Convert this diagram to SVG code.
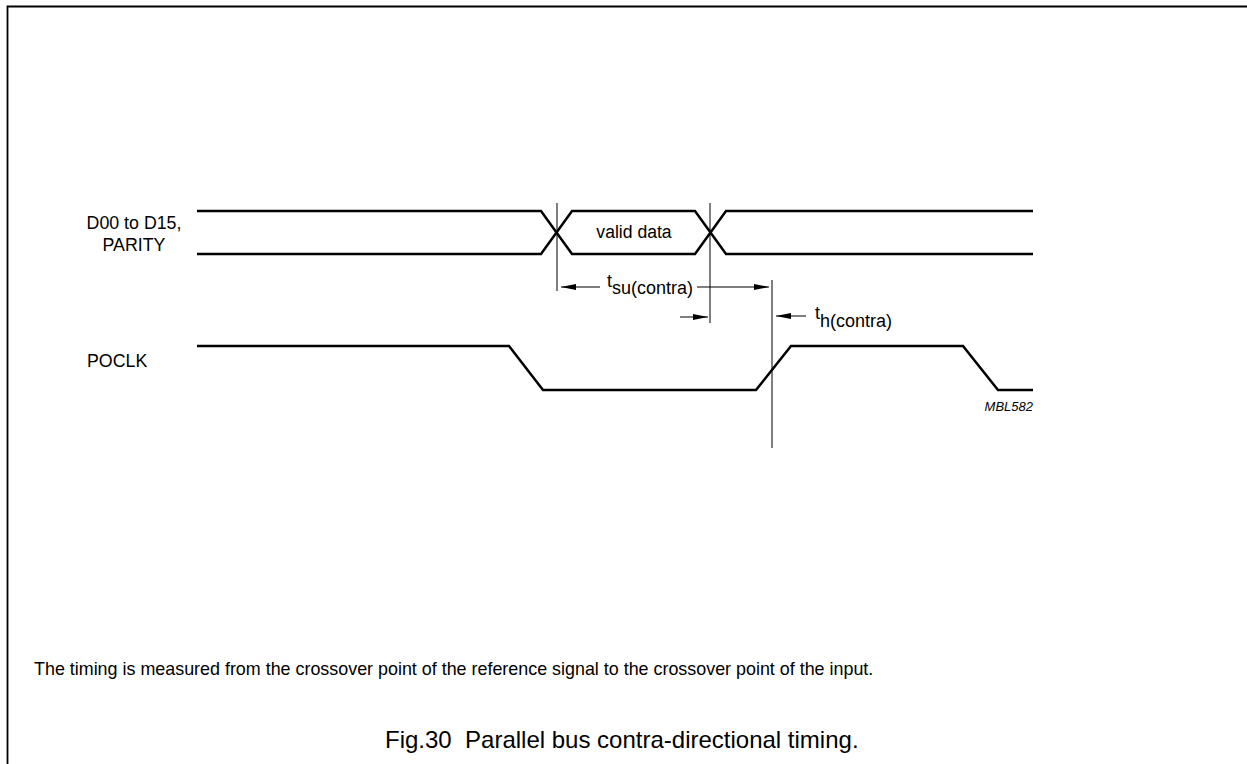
<svg xmlns="http://www.w3.org/2000/svg" width="1247" height="764" viewBox="0 0 1247 764">
  <defs>
    <style>
      text { font-family: "Liberation Sans", Arial, sans-serif; fill: #000; }
      .sig { fill: none; stroke: #000; stroke-width: 2.5; stroke-linejoin: miter; }
      .ref { fill: none; stroke: #000; stroke-width: 1; }
      .dim { fill: none; stroke: #000; stroke-width: 1; }
      .frame { fill: none; stroke: #000; stroke-width: 1.8; }
      .lbl { font-size: 17.8px; }
      .ann { font-size: 17.6px; }
      .sub { font-size: 18px; }
      .note { font-size: 17.9px; }
      .cap { font-size: 24px; }
      .id { font-size: 13px; font-style: italic; }
    </style>
    <marker id="ah" viewBox="0 0 15 6" refX="15" refY="3" markerWidth="15" markerHeight="6" markerUnits="userSpaceOnUse" orient="auto">
      <path d="M0,0 L15,3 L0,6 Z" fill="#000"/>
    </marker>
  </defs>

  <rect width="1247" height="764" fill="#fff"/>

  <!-- page frame: top and left edges -->
  <path class="frame" d="M7.5,764 V6.5 H1247"/>

  <!-- data bus signal -->
  <g id="bus">
    <text class="lbl" x="134" y="229" text-anchor="middle">D00 to D15,</text>
    <text class="lbl" x="134" y="251" text-anchor="middle">PARITY</text>
    <path class="sig" d="M197,211 H541 L572,254 H695 L726,211 H1033"/>
    <path class="sig" d="M197,254 H541 L572,211 H695 L726,254 H1033"/>
    <text class="ann" x="634" y="238" text-anchor="middle">valid data</text>
  </g>

  <!-- clock signal -->
  <g id="poclk">
    <text class="lbl" x="87" y="367">POCLK</text>
    <path class="sig" d="M197,346 H509 L543,390 H756 L791,346 H963 L998,390 H1033"/>
    <text class="id" x="1033" y="411" text-anchor="end">MBL582</text>
  </g>

  <!-- reference lines and timing dimensions -->
  <g id="connectors">
    <line class="ref" x1="557" y1="203" x2="557" y2="291"/>
    <line class="ref" x1="710" y1="203" x2="710" y2="323"/>
    <line class="ref" x1="772" y1="280" x2="772" y2="448"/>

    <line class="dim" x1="600" y1="287" x2="561" y2="287" marker-end="url(#ah)"/>
    <line class="dim" x1="697" y1="287" x2="769" y2="287" marker-end="url(#ah)"/>
    <line class="dim" x1="680" y1="317" x2="708" y2="317" marker-end="url(#ah)"/>
    <line class="dim" x1="806" y1="316" x2="776" y2="316" marker-end="url(#ah)"/>
  </g>

  <g id="tsu">
    <text class="sub" x="607" y="287">t<tspan dy="7">su(contra)</tspan></text>
  </g>
  <g id="th">
    <text class="sub" x="815" y="319">t<tspan dy="8">h(contra)</tspan></text>
  </g>

  <text class="note" x="34" y="675">The timing is measured from the crossover point of the reference signal to the crossover point of the input.</text>
  <text class="cap" x="385" y="748" xml:space="preserve">Fig.30  Parallel bus contra-directional timing.</text>
</svg>
